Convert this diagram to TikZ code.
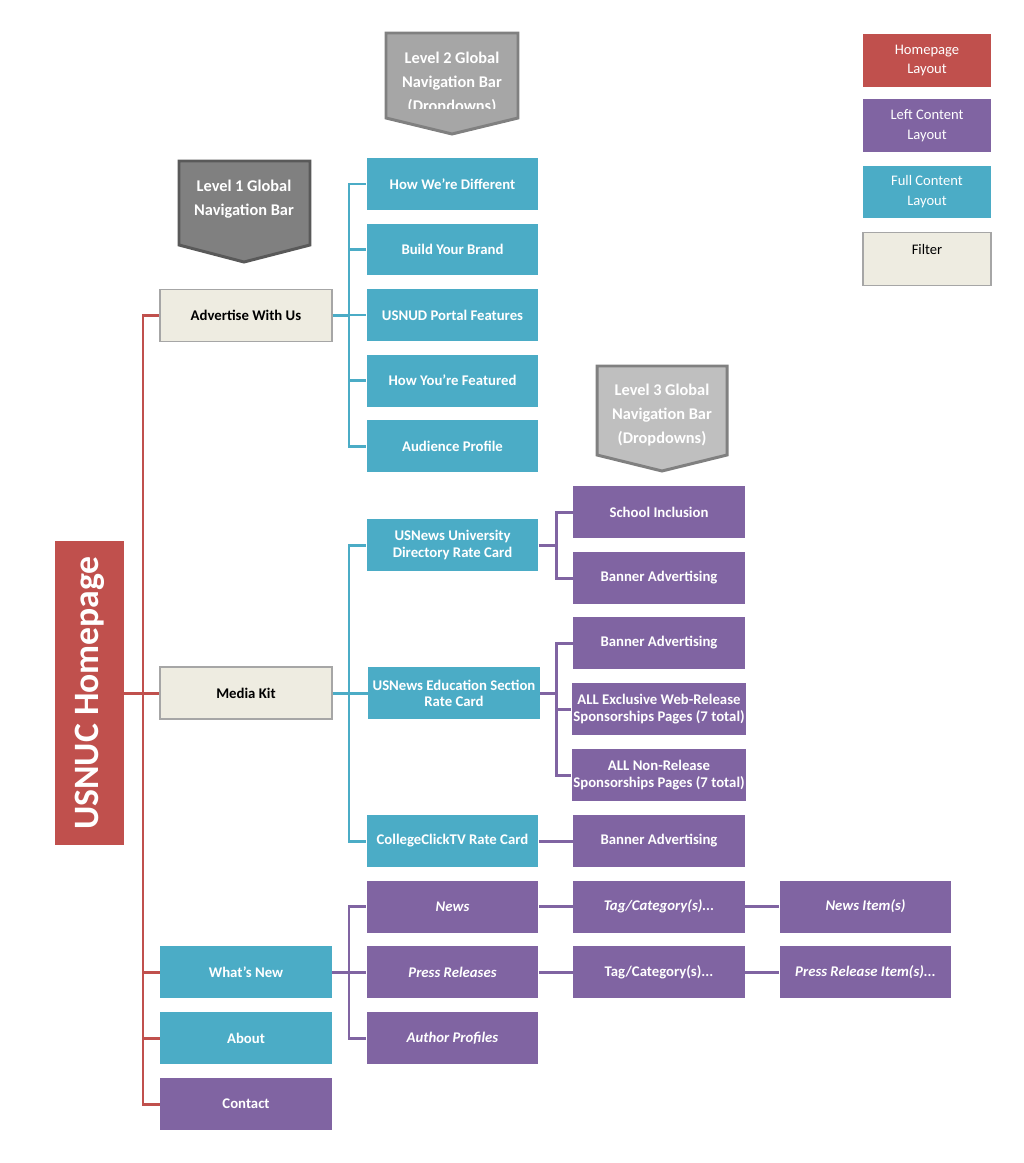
\documentclass[tikz,border=0pt]{standalone}
\usepackage{fontspec}
\setmainfont{Carlito}
\usetikzlibrary{positioning}

\definecolor{homered}{HTML}{C0504D}
\definecolor{leftpurple}{HTML}{8064A2}
\definecolor{fullteal}{HTML}{4BACC6}
\definecolor{filterbeige}{HTML}{EEECE1}

\begin{document}
\begin{tikzpicture}[x=0.02cm, y=-0.02cm,
  card/.style = {minimum width=3.44cm, minimum height=1.04cm, inner sep=1pt, align=center, text=white, font=\bfseries\fontsize{8.4}{9.2}\selectfont},
  hpage/.style = {card, fill=homered},
  lcont/.style = {card, fill=leftpurple},
  fcont/.style = {card, fill=fullteal},
  filt/.style = {card, fill=filterbeige, draw=black!35, line width=1pt, text=black},
  ital/.style = {font=\bfseries\itshape\fontsize{8.4}{9.2}\selectfont},
  legend/.style = {minimum width=2.56cm, minimum height=1.06cm, inner sep=1pt, align=center, text=white, font=\fontsize{8.3}{11.3}\selectfont},
  banner/.style = {line width=1.7pt, line join=miter},
  bannertext/.style = {text=white, align=center, font=\bfseries\fontsize{9.3}{13.6}\selectfont},
  redl/.style = {homered, line width=1.7pt},
  teall/.style = {fullteal, line width=1.7pt},
  purpl/.style = {leftpurple, line width=1.7pt}]
\useasboundingbox (0,0) rectangle (1024,1163);

% banners
\draw[banner, fill=black!35, draw=black!50] (386,33) -- (518,33) -- (518,118) -- (452,134) -- (386,118) -- cycle;
\begin{scope}
\clip (386,33) rectangle (518,108);
\node[bannertext] (lvl2) at (452,83) {Level 2 Global\\Navigation Bar\\(Dropdowns)};
\end{scope}
\draw[banner, fill=black!50, draw=black!65] (179,161) -- (310,161) -- (310,245) -- (244,262) -- (179,245) -- cycle;
\node[bannertext] (lvl1) at (244,199) {Level 1 Global\\Navigation Bar};
\draw[banner, fill=black!25, draw=black!50] (597,366) -- (727,366) -- (727,455) -- (662,471) -- (597,455) -- cycle;
\node[bannertext] (lvl3) at (662,415) {Level 3 Global\\Navigation Bar\\(Dropdowns)};

% legend
\node[legend, fill=homered] (lghome) at (927,60.5) {Homepage\\Layout};
\node[legend, fill=leftpurple] (lgleft) at (927,125.5) {Left Content\\Layout};
\node[legend, fill=fullteal] (lgfull) at (927,192) {Full Content\\Layout};
\node[legend, fill=filterbeige, draw=black!35, line width=1pt, text=black] (lgfilter) at (927,259) {Filter\\~};

% home
\node[hpage, rotate=90, minimum width=6.08cm, minimum height=1.38cm, font=\bfseries\fontsize{20.3}{24}\selectfont] (home) at (89.5,693) {USNUC Homepage};

% level 1
\node[filt] (adv) at (246,315.5) {Advertise With Us};
\node[filt] (media) at (246,693) {Media Kit};
\node[fcont] (wnew) at (246,972) {What's New};
\node[fcont] (about) at (246,1038) {About};
\node[lcont] (contact) at (246,1104) {Contact};

% level 2
\node[fcont] (diff) at (452.5,184) {How We're Different};
\node[fcont] (brand) at (452.5,249.5) {Build Your Brand};
\node[fcont] (portal) at (452.5,315) {USNUD Portal Features};
\node[fcont] (featured) at (452.5,380.5) {How You're Featured};
\node[fcont] (aud) at (452.5,446) {Audience Profile};
\node[fcont] (univ) at (452.5,545) {USNews University\\Directory Rate Card};
\node[fcont] (edu) at (454,693) {USNews Education Section\\Rate Card};
\node[fcont] (cctv) at (452.5,841) {CollegeClickTV Rate Card};
\node[lcont, ital] (news) at (452.5,906.5) {News};
\node[lcont, ital] (press) at (452.5,972) {Press Releases};
\node[lcont, ital] (authors) at (452.5,1038) {Author Profiles};

% level 3
\node[lcont] (school) at (659,512) {School Inclusion};
\node[lcont] (bana) at (659,578) {Banner Advertising};
\node[lcont] (banb) at (659,643) {Banner Advertising};
\node[lcont] (excl) at (659,709) {ALL Exclusive Web-Release\\Sponsorships Pages (7 total)};
\node[lcont] (nonrel) at (659,775) {ALL Non-Release\\Sponsorships Pages (7 total)};
\node[lcont] (banc) at (659,841) {Banner Advertising};
\node[lcont, ital] (taga) at (659,906.5) {Tag/Category(s)...};
\node[lcont] (tagb) at (659,972) {Tag/Category(s)...};

% level 4
\node[lcont, ital] (newsitem) at (865.5,906.5) {News Item(s)};
\node[lcont, ital] (pressitem) at (865.5,972) {Press Release Item(s)...};

% connectors
\coordinate (rtrunk) at (143,693);
\foreach \n in {adv,media,wnew,about,contact}
  \draw[redl] (home.south) -- (rtrunk) |- (\n.west);
\coordinate (t1) at (349,315.5);
\foreach \n in {diff,brand,portal,featured,aud}
  \draw[teall] (adv.east) -- (t1) |- (\n.west);
\coordinate (t2) at (349,693);
\foreach \n in {univ,edu,cctv}
  \draw[teall] (media.east) -- (t2) |- (\n.west);
\coordinate (p1) at (349,972);
\foreach \n in {news,press,authors}
  \draw[purpl] (wnew.east) -- (p1) |- (\n.west);
\coordinate (p2) at (556,545);
\foreach \n in {school,bana}
  \draw[purpl] (univ.east) -- (p2) |- (\n.west);
\coordinate (p3) at (556,693);
\foreach \n in {banb,excl,nonrel}
  \draw[purpl] (edu.east) -- (p3) |- (\n.west);
\draw[purpl] (cctv) -- (banc);
\draw[purpl] (news) -- (taga) -- (newsitem);
\draw[purpl] (press) -- (tagb) -- (pressitem);
\end{tikzpicture}
\end{document}
